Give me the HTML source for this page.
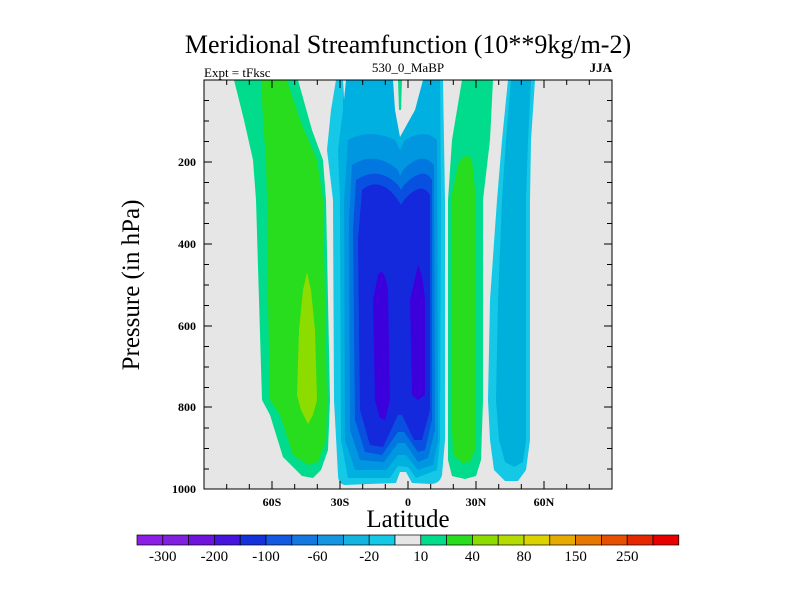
<!DOCTYPE html>
<html><head><meta charset="utf-8"><style>
html,body{margin:0;padding:0;background:#fff;}
svg text{font-family:"Liberation Serif",serif;fill:#000;}
</style></head><body>
<svg width="800" height="600" viewBox="0 0 800 600" xmlns="http://www.w3.org/2000/svg">
<rect x="204" y="80" width="408" height="409" fill="#e6e6e6"/>
<path d="M234,80 L298,80 L312,130 L323,160 L326,200 L330,400 L328,450 L321,470 L313,478 L302,476 L283,457 L270,415 L262,400 L259,300 L256,200 L253,160 L244,120 Z" fill="#00dc8c"/>
<path d="M261,80 L287,80 L300,120 L317,160 L323,200 L327,400 L326,440 L318,462 L308,465 L293,455 L280,415 L270,400 L268,300 L267,200 L266,160 L263,120 Z" fill="#28dc1e"/>
<path d="M307,272 L311,290 L315,330 L317,400 L313,415 L308,424 L301,410 L297,395 L299,330 L303,290 Z" fill="#8cdc00"/>
<path d="M462,80 L493,80 L490,140 L483,200 L483,400 L481,460 L476,476 L465,479 L452,476 L448,460 L448,400 L448,200 L452,140 Z" fill="#00dc8c"/>
<path d="M458,165 Q465,150 472,160 L476,200 L476,400 L475,450 L470,462 L462,463 L453,455 L451,400 L451,200 Z" fill="#28dc1e"/>
<path d="M508,80 L535,80 L531,140 L530,200 L530,440 L526,470 L518,481 L505,481 L494,470 L490,440 L488,400 L490,300 L497,200 L502,140 Z" fill="#14c8e6"/>
<path d="M511,80 L531,80 L528,140 L526,200 L526,440 L523,462 L514,467 L505,462 L499,440 L496,400 L498,300 L502,200 L506,140 Z" fill="#00b0dc"/>
<path d="M336,80 L443,80 L445,200 L445,440 L442,475 Q440,484 430,484 L412,483 L406,472 L400,472 L396,483 L345,485 Q338,484 338,475 L334,400 L333,200 L327,150 L331,110 Z" fill="#14c8e6"/>
<path d="M343,80 L440,80 L441,200 L440,440 L437,470 L416,478 L408,467 L398,466 L390,478 L348,478 L341,440 L340,200 L338,150 L343,110 Z" fill="#00b0e0"/>
<path d="M348,140 Q370,128 395,140 L400,150 L405,140 Q425,128 437,140 L438,440 L433,465 L418,470 L406,455 L398,455 L386,470 L355,470 L345,440 L344,200 Z" fill="#0096e0"/>
<path d="M352,165 Q375,150 398,170 L400,176 L403,170 Q422,150 434,165 L435,430 L428,458 L418,462 L405,443 L398,443 L384,462 L360,460 L350,430 L349,220 Z" fill="#0078e0"/>
<path d="M356,180 Q378,165 398,185 L401,190 L404,185 Q424,165 432,180 L432,420 L425,450 L418,452 L404,432 L398,432 L382,455 L365,452 L355,420 L353,230 Z" fill="#0a50e0"/>
<path d="M362,190 Q380,175 398,200 L401,205 L404,200 Q422,180 430,195 L430,410 L422,440 L414,440 L402,415 L398,415 L383,447 L370,445 L360,410 L358,240 Z" fill="#1428dc"/>
<path d="M378,275 Q384,265 388,290 L390,400 L385,420 L380,418 L375,400 L373,300 Z" fill="#3c00dc"/>
<path d="M418,265 Q423,275 425,300 L425,395 L418,400 L412,395 L410,300 Z" fill="#3c00dc"/>
<path d="M393,80 L423,80 L415,110 L400,137 L395,110 Z" fill="#e6e6e6"/>
<path d="M398,80 L402,80 L401,110 L399,110 Z" fill="#00dc8c"/>
<path d="M343,80 L346,80 L344,100 Z" fill="#e6e6e6"/>
<rect x="204" y="80" width="408" height="409" fill="none" stroke="#000" stroke-width="1"/>
<g stroke="#000" stroke-width="1">
<path d="M204,100.5h5M204,121h5M204,141.5h5M204,162h8M204,182.5h5M204,203h5M204,223.5h5M204,244h8M204,264.5h5M204,285h5M204,305.5h5M204,326h8M204,346.5h5M204,367h5M204,387.5h5M204,407h8M204,428h5M204,448.5h5M204,469h5"/>
<path d="M612,100.5h-5M612,121h-5M612,141.5h-5M612,162h-8M612,182.5h-5M612,203h-5M612,223.5h-5M612,244h-8M612,264.5h-5M612,285h-5M612,305.5h-5M612,326h-8M612,346.5h-5M612,367h-5M612,387.5h-5M612,407h-8M612,428h-5M612,448.5h-5M612,469h-5"/>
<path d="M226.7,489v-5M249.3,489v-5M272,489v-8M294.7,489v-5M317.3,489v-5M340,489v-8M362.7,489v-5M385.3,489v-5M408,489v-8M430.7,489v-5M453.3,489v-5M476,489v-8M498.7,489v-5M521.3,489v-5M544,489v-8M566.7,489v-5M589.3,489v-5"/>
<path d="M226.7,80v5M249.3,80v5M272,80v8M294.7,80v5M317.3,80v5M340,80v8M362.7,80v5M385.3,80v5M408,80v8M430.7,80v5M453.3,80v5M476,80v8M498.7,80v5M521.3,80v5M544,80v8M566.7,80v5M589.3,80v5"/>
</g>
<g font-size="12" font-weight="bold" text-anchor="end">
<text x="196" y="166">200</text><text x="196" y="248">400</text><text x="196" y="330">600</text><text x="196" y="411">800</text><text x="196" y="493">1000</text>
</g>
<g font-size="12" font-weight="bold" text-anchor="middle">
<text x="272" y="506">60S</text><text x="340" y="506">30S</text><text x="408" y="506">0</text><text x="476" y="506">30N</text><text x="544" y="506">60N</text>
</g>
<text x="408" y="53" font-size="26" text-anchor="middle">Meridional Streamfunction (10**9kg/m-2)</text>
<text x="204" y="77" font-size="13">Expt = tFksc</text>
<text x="408" y="72" font-size="13" text-anchor="middle">530_0_MaBP</text>
<text x="612" y="72" font-size="13" font-weight="bold" text-anchor="end">JJA</text>
<text x="408" y="527" font-size="25" text-anchor="middle">Latitude</text>
<text transform="translate(139,285) rotate(-90)" font-size="25" text-anchor="middle">Pressure (in hPa)</text>
<g stroke="#000" stroke-width="0.7">
<rect x="137.0" y="535" width="25.8" height="10" fill="#8c1ee6"/>
<rect x="162.8" y="535" width="25.8" height="10" fill="#8220e0"/>
<rect x="188.6" y="535" width="25.8" height="10" fill="#6e14dc"/>
<rect x="214.4" y="535" width="25.8" height="10" fill="#4614dc"/>
<rect x="240.2" y="535" width="25.8" height="10" fill="#1432dc"/>
<rect x="266.0" y="535" width="25.8" height="10" fill="#145ae0"/>
<rect x="291.8" y="535" width="25.8" height="10" fill="#1478e0"/>
<rect x="317.6" y="535" width="25.8" height="10" fill="#1496e0"/>
<rect x="343.4" y="535" width="25.8" height="10" fill="#14b4e0"/>
<rect x="369.2" y="535" width="25.8" height="10" fill="#14c8e6"/>
<rect x="395.0" y="535" width="25.8" height="10" fill="#e6e6e6"/>
<rect x="420.8" y="535" width="25.8" height="10" fill="#00dc8c"/>
<rect x="446.6" y="535" width="25.8" height="10" fill="#28dc1e"/>
<rect x="472.4" y="535" width="25.8" height="10" fill="#8cdc00"/>
<rect x="498.2" y="535" width="25.8" height="10" fill="#b4dc00"/>
<rect x="524.0" y="535" width="25.8" height="10" fill="#dcd200"/>
<rect x="549.8" y="535" width="25.8" height="10" fill="#e6aa00"/>
<rect x="575.6" y="535" width="25.8" height="10" fill="#e67800"/>
<rect x="601.4" y="535" width="25.8" height="10" fill="#e65000"/>
<rect x="627.2" y="535" width="25.8" height="10" fill="#e62800"/>
<rect x="653.0" y="535" width="25.8" height="10" fill="#e60000"/>
</g>
<g font-size="15" text-anchor="middle">
<text x="162.8" y="561">-300</text><text x="214.4" y="561">-200</text><text x="266" y="561">-100</text><text x="317.6" y="561">-60</text><text x="369.2" y="561">-20</text><text x="420.8" y="561">10</text><text x="472.4" y="561">40</text><text x="524" y="561">80</text><text x="575.6" y="561">150</text><text x="627.2" y="561">250</text>
</g>
</svg>
</body></html>
